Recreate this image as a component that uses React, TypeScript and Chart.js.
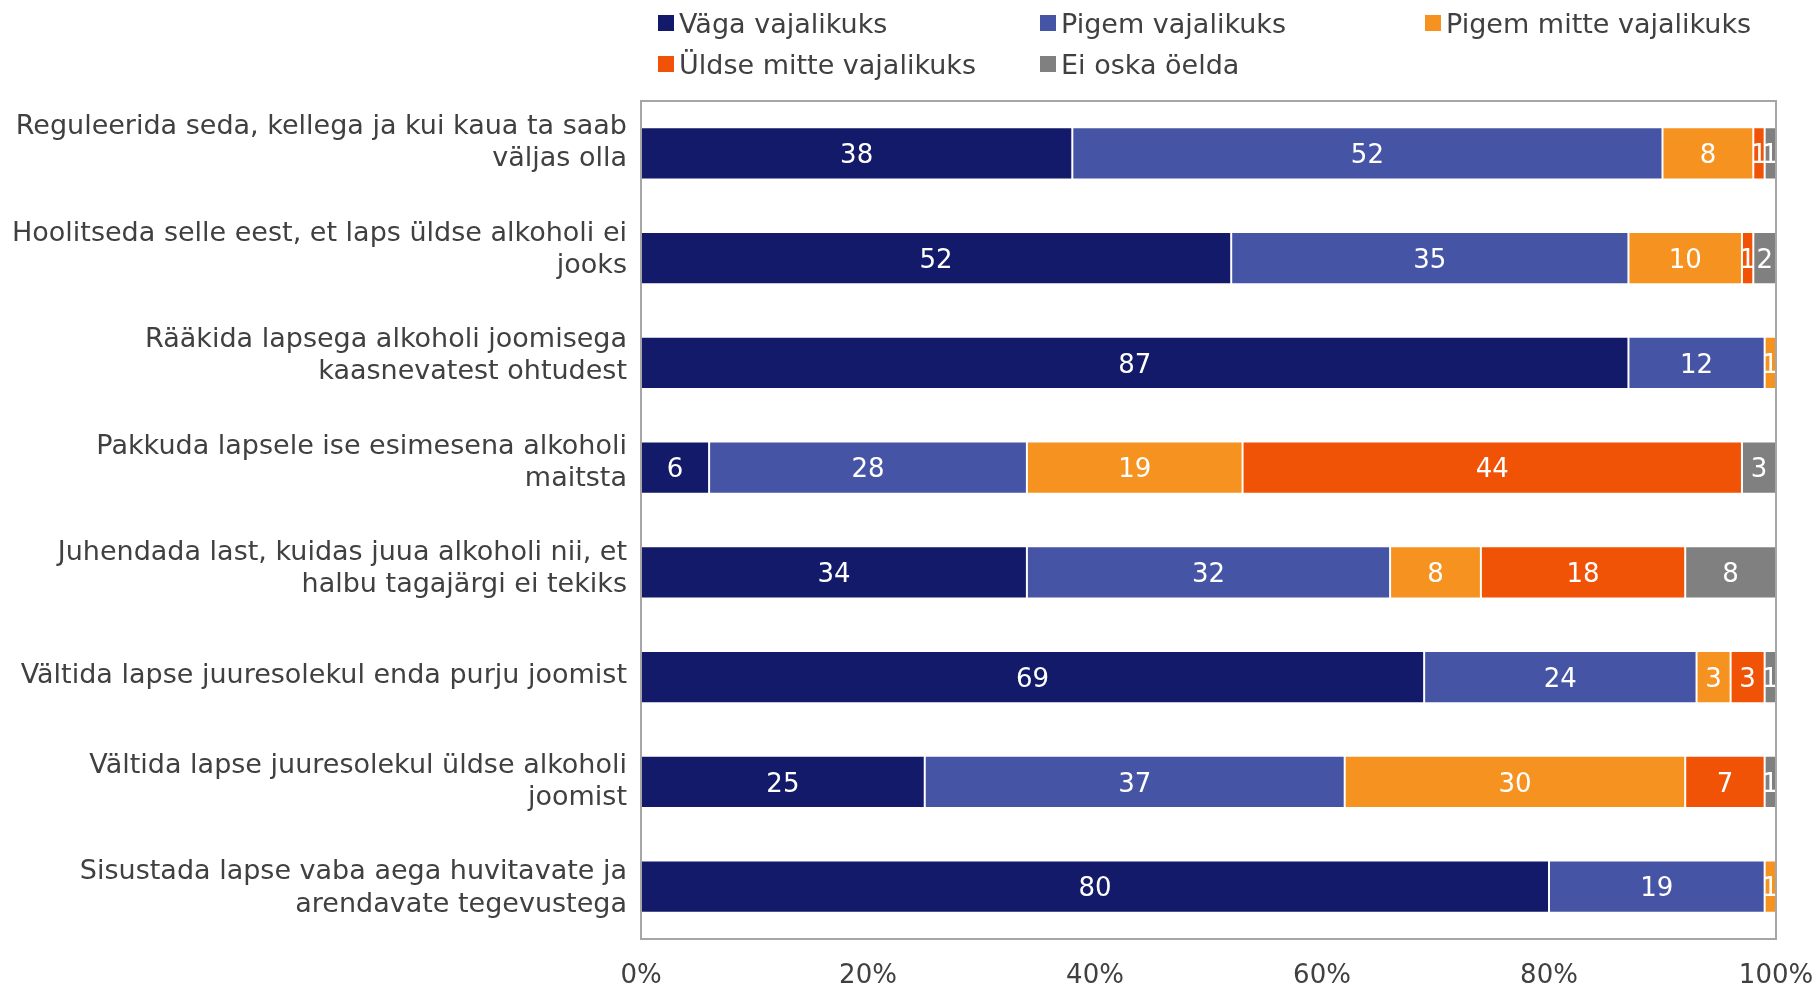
import React, { useEffect, useRef } from "react";
import { Chart, registerables } from "chart.js";

Chart.register(...registerables);

const categories: string[][] = [
  ["Reguleerida seda, kellega ja kui kaua ta saab", "väljas olla"],
  ["Hoolitseda selle eest, et laps üldse alkoholi ei", "jooks"],
  ["Rääkida lapsega alkoholi joomisega", "kaasnevatest ohtudest"],
  ["Pakkuda lapsele ise esimesena alkoholi", "maitsta"],
  ["Juhendada last, kuidas juua alkoholi nii, et", "halbu tagajärgi ei tekiks"],
  ["Vältida lapse juuresolekul enda purju joomist"],
  ["Vältida lapse juuresolekul üldse alkoholi", "joomist"],
  ["Sisustada lapse vaba aega huvitavate ja", "arendavate tegevustega"],
];

const seriesNames = [
  "Väga vajalikuks",
  "Pigem vajalikuks",
  "Pigem mitte vajalikuks",
  "Üldse mitte vajalikuks",
  "Ei oska öelda",
];

const vagaVajalikuks = [38, 52, 87, 6, 34, 69, 25, 80];
const pigemVajalikuks = [52, 35, 12, 28, 32, 24, 37, 19];
const pigemMitte = [8, 10, 1, 19, 8, 3, 30, 1];
const uldseMitte = [1, 1, 0, 44, 18, 3, 7, 0];
const eiOska = [1, 2, 0, 3, 8, 1, 1, 0];

const xTicks = [0, 20, 40, 60, 80, 100];

const colors = ["#131A6A", "#4654A6", "#F6921F", "#F05206", "#808080"];

const FONT = "'DejaVu Sans', Verdana, sans-serif";

const valueLabels = {
  id: "valueLabels",
  afterDatasetsDraw(chart: any) {
    const ctx = chart.ctx;
    ctx.save();
    ctx.fillStyle = "#ffffff";
    ctx.font = `26px ${FONT}`;
    ctx.textAlign = "center";
    ctx.textBaseline = "middle";
    chart.data.datasets.forEach((ds: any, i: number) => {
      const meta = chart.getDatasetMeta(i);
      meta.data.forEach((bar: any, j: number) => {
        const v = ds.data[j];
        if (!v) return;
        const p = bar.getProps(["x", "y", "base"], true);
        ctx.fillText(String(v), (p.x + p.base) / 2, p.y + 3);
      });
    });
    ctx.restore();
  },
};

const plotBorder = {
  id: "plotBorder",
  afterDraw(chart: any) {
    const { ctx, chartArea } = chart;
    ctx.save();
    ctx.strokeStyle = "#a6a6a6";
    ctx.lineWidth = 2;
    ctx.strokeRect(chartArea.left, chartArea.top, chartArea.right - chartArea.left, chartArea.bottom - chartArea.top);
    ctx.restore();
  },
};

// Category labels in the original are spread slightly wider than the bars and sit a bit higher.
const labelSpread = {
  id: "labelSpread",
  beforeDraw(chart: any) {
    const scale = chart.scales.y;
    const items = scale.getLabelItems();
    if (items._spread) return;
    const top = chart.chartArea.top;
    items.forEach((it: any, i: number) => {
      const py = scale.getPixelForTick(i);
      it.options.translation[1] = top + (py - top) * 1.0166 - 11;
    });
    items._spread = true;
  },
};

export default function App() {
  const ref = useRef<HTMLCanvasElement | null>(null);

  useEffect(() => {
    document.body.style.margin = "0";
    const seriesData = [vagaVajalikuks, pigemVajalikuks, pigemMitte, uldseMitte, eiOska];
    const chart = new Chart(ref.current as HTMLCanvasElement, {
      type: "bar",
      data: {
        labels: categories as any,
        datasets: seriesData.map((d, i) => ({
          label: seriesNames[i],
          data: d,
          backgroundColor: colors[i],
          borderColor: "rgba(255,255,255,0.45)",
          borderWidth: 1,
          borderSkipped: false,
          barPercentage: 0.5,
          categoryPercentage: 1,
        })),
      },
      options: {
        indexAxis: "y",
        responsive: false,
        animation: false,
        layout: { padding: { left: 0, right: 44, top: 101, bottom: 0 } },
        plugins: {
          legend: { display: false },
          tooltip: { enabled: false },
        },
        scales: {
          x: {
            stacked: true,
            min: 0,
            max: 100,
            afterBuildTicks(scale: any) {
              scale.ticks = xTicks.map((v) => ({ value: v }));
            },
            afterFit(scale: any) {
              scale.height = 51;
              scale.paddingLeft = 0;
              scale.paddingRight = 0;
            },
            grid: { display: false, drawTicks: false },
            border: { display: false },
            ticks: {
              padding: 22,
              color: "#404040",
              font: { family: FONT, size: 26 },
              callback: (v: any) => `${v}%`,
              maxRotation: 0,
            },
          },
          y: {
            stacked: true,
            afterFit(scale: any) {
              scale.width = 641;
              scale.paddingTop = 0;
              scale.paddingBottom = 0;
            },
            grid: { display: false, drawTicks: false },
            border: { display: false },
            ticks: {
              padding: 14,
              color: "#404040",
              font: { family: FONT, size: 27, lineHeight: 1.2 },
              autoSkip: false,
            },
          },
        },
      },
      plugins: [labelSpread, valueLabels, plotBorder],
    });
    return () => chart.destroy();
  }, []);

  const legendPos = [
    { x: 658, y: 23 },
    { x: 1040, y: 23 },
    { x: 1425, y: 23 },
    { x: 658, y: 64 },
    { x: 1040, y: 64 },
  ];

  return (
    <div style={{ position: "absolute", left: 0, top: 0, width: 1820, height: 990, background: "#fff" }}>
      <canvas ref={ref} width={1820} height={990} style={{ position: "absolute", left: 0, top: 0 }} />
      {seriesNames.map((name, i) => (
        <div
          key={name}
          style={{
            position: "absolute",
            left: legendPos[i].x,
            top: legendPos[i].y - 18,
            height: 36,
            display: "flex",
            alignItems: "center",
            fontFamily: FONT,
            fontSize: 27,
            color: "#404040",
            whiteSpace: "nowrap",
          }}
        >
          <span style={{ display: "inline-block", width: 16, height: 16, background: colors[i], marginRight: 5 }} />
          <span>{name}</span>
        </div>
      ))}
    </div>
  );
}
